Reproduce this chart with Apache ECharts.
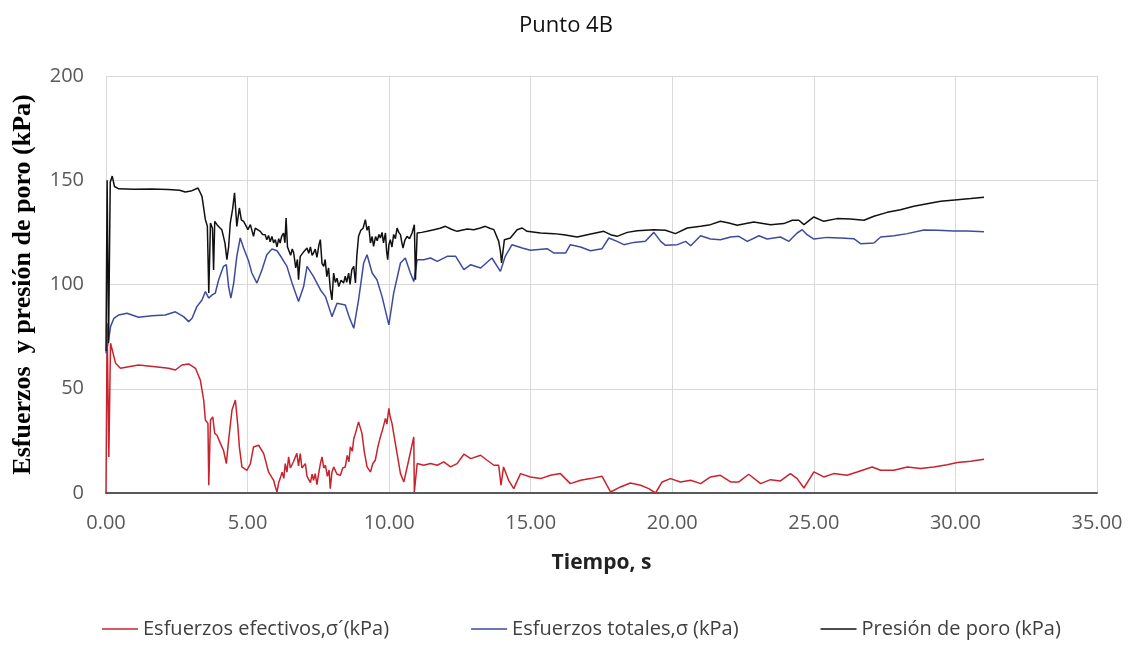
<!DOCTYPE html>
<html>
<head>
<meta charset="utf-8">
<title>Punto 4B</title>
<script src="https://cdn.jsdelivr.net/npm/echarts@6/dist/echarts.min.js"></script>
<style>
  html, body { margin: 0; padding: 0; background: #fff; }
  #chart { width: 1132px; height: 650px; }
</style>
</head>
<body>
<div id="chart"></div>
<script>
// [tiempo (s), valor (kPa)]
const efectivos = [
  [0, 0], [0.04, 81.4], [0.1, 17.3], [0.16, 71.8], [0.22, 71], [0.34, 62.2], [0.51, 59.8], [0.8, 60.6],
  [1.15, 61.4], [1.74, 60.6], [2.21, 59.8], [2.45, 59], [2.68, 61.4], [2.92, 61.9], [3.16, 59.8],
  [3.33, 54.2], [3.45, 44.6], [3.51, 35], [3.6, 33.4], [3.63, 3.7], [3.69, 35], [3.77, 36.5],
  [3.84, 28.6], [3.92, 27.7], [4.04, 23.8], [4.15, 20.5], [4.25, 14.1], [4.33, 25.3], [4.45, 39.8],
  [4.57, 44.6], [4.66, 31.7], [4.71, 22.1], [4.8, 12.5], [4.98, 10.9], [5.1, 14.1], [5.21, 22.1],
  [5.39, 22.9], [5.57, 18.9], [5.74, 10.1], [5.92, 6.1], [5.98, 3], [6.04, 0.5], [6.1, 5], [6.15, 6.9],
  [6.22, 10], [6.28, 7], [6.33, 14.1], [6.39, 10], [6.45, 17.3], [6.51, 12], [6.57, 11.7], [6.62, 15],
  [6.68, 14.1], [6.74, 19], [6.8, 13], [6.86, 18.9], [6.92, 12], [6.98, 11.7], [7.04, 14.1], [7.1, 8],
  [7.16, 7.7], [7.22, 5], [7.28, 9], [7.33, 6.1], [7.39, 9.3], [7.45, 4], [7.51, 9.3], [7.57, 14],
  [7.63, 17.3], [7.69, 12], [7.75, 13.3], [7.82, 8], [7.88, 11], [7.92, 2.1], [7.98, 10], [8.04, 12.5],
  [8.16, 9], [8.28, 8.5], [8.36, 12], [8.45, 12.5], [8.52, 18], [8.58, 15], [8.63, 22.1], [8.7, 20],
  [8.75, 26], [8.81, 28.6], [8.92, 34.1], [9.04, 28.6], [9.12, 20], [9.22, 12.5], [9.34, 10.1],
  [9.42, 14], [9.51, 15.7], [9.6, 22], [9.69, 26.9], [9.78, 31], [9.87, 35.8], [9.92, 33], [9.99, 40.6],
  [10.03, 37], [10.1, 33.4], [10.28, 18.9], [10.4, 9.3], [10.52, 5.3], [10.69, 15.7], [10.87, 26.9],
  [10.89, 0.5], [10.99, 14.1], [11.22, 13.3], [11.46, 14.1], [11.7, 13.3], [11.93, 14.9], [12.17, 12.5],
  [12.4, 14.1], [12.64, 18.6], [12.88, 16.5], [13.23, 18.1], [13.46, 15.7], [13.7, 13.3], [13.87, 13.3],
  [13.95, 3.7], [14.04, 12.5], [14.22, 6.1], [14.4, 2.1], [14.64, 9.3], [14.99, 7.7], [15.35, 6.9],
  [15.7, 8.5], [16.05, 9.3], [16.4, 4.5], [16.76, 6.1], [17.11, 6.9], [17.52, 8], [17.82, 0.5],
  [18.17, 2.9], [18.52, 4.8], [18.88, 3.7], [19.17, 2.1], [19.41, 0], [19.64, 5.3], [19.94, 6.9],
  [20.29, 5.3], [20.65, 6.1], [21.0, 4.5], [21.35, 7.7], [21.7, 8.5], [22.06, 5.3], [22.35, 5.3],
  [22.7, 9], [23.12, 4.5], [23.47, 6.4], [23.82, 5.8], [24.17, 9.3], [24.41, 6.9], [24.65, 2.4],
  [25.0, 10.1], [25.35, 7.7], [25.7, 9.3], [26.17, 8.5], [26.53, 10.1], [27.06, 12.5], [27.36, 10.9],
  [27.83, 10.9], [28.3, 12.5], [28.77, 11.7], [29.24, 12.5], [29.71, 13.6], [30.07, 14.6], [30.54, 15.2],
  [31.01, 16.2]
];

const totales = [
  [0, 67], [0.04, 67], [0.1, 74], [0.16, 79.8], [0.28, 83.8], [0.45, 85.4], [0.74, 86.2], [1.15, 84.3],
  [1.62, 85], [2.09, 85.4], [2.45, 86.9], [2.74, 84.6], [2.92, 82.2], [3.04, 83.8], [3.21, 89.4],
  [3.39, 92.6], [3.51, 96.6], [3.63, 93.5], [3.75, 95], [3.86, 95.9], [3.98, 102.3], [4.15, 108.7],
  [4.25, 109.5], [4.33, 99], [4.41, 93.5], [4.51, 100.7], [4.62, 113.5], [4.74, 122.3], [4.86, 117.5],
  [5.04, 111.1], [5.15, 105.5], [5.33, 100.7], [5.51, 107.1], [5.68, 114.3], [5.86, 117], [6.04, 116.2],
  [6.21, 112.7], [6.39, 108.7], [6.57, 100.7], [6.8, 91.8], [6.98, 99], [7.1, 108.7], [7.16, 109.5],
  [7.33, 103.8], [7.57, 97.5], [7.75, 94.2], [7.98, 84.6], [8.16, 91], [8.45, 90.2], [8.6, 84],
  [8.75, 79], [8.92, 92.6], [9.1, 110.3], [9.22, 114.3], [9.4, 105.5], [9.57, 102.3], [9.75, 94.2],
  [9.99, 80.6], [10.16, 95.9], [10.4, 110.3], [10.57, 112.7], [10.75, 105.5], [10.87, 101.4],
  [10.99, 111.9], [11.22, 111.9], [11.46, 112.7], [11.7, 111.1], [12.05, 113.5], [12.35, 113.5],
  [12.64, 107.1], [12.88, 109.5], [13.23, 107.9], [13.63, 112.7], [13.93, 106.3], [14.1, 113.5],
  [14.34, 119.1], [14.7, 117.5], [14.99, 116.4], [15.58, 117.2], [15.82, 115.1], [16.23, 115.1],
  [16.4, 119.1], [16.76, 118], [17.11, 116.2], [17.52, 117.2], [17.76, 122.3], [18.05, 120.7],
  [18.29, 119.1], [18.64, 120.2], [19.05, 120.7], [19.35, 125], [19.59, 120.7], [19.76, 118.8],
  [20.18, 119.1], [20.47, 120.7], [20.65, 118.6], [21.0, 123.4], [21.35, 121.8], [21.7, 121.5],
  [22.06, 122.8], [22.35, 123.1], [22.65, 120.7], [23.06, 123.4], [23.35, 121.8], [23.82, 122.8],
  [24.12, 120.7], [24.41, 124.7], [24.59, 126.3], [24.76, 123.9], [25.0, 121.8], [25.47, 122.6],
  [25.94, 122.3], [26.41, 122], [26.65, 119.6], [27.12, 119.9], [27.36, 122.8], [27.83, 123.4],
  [28.3, 124.4], [28.89, 126.1], [29.36, 126], [29.95, 125.6], [30.42, 125.6], [31.01, 125.3]
];

const poro = [
  [0, 68], [0.04, 150], [0.09, 72], [0.15, 149], [0.22, 152], [0.3, 147], [0.45, 145.9], [1.0, 145.7],
  [1.6, 145.8], [2.2, 145.6], [2.6, 145.2], [2.8, 144.4], [3.0, 144.8], [3.25, 146.3], [3.39, 142.3],
  [3.51, 131.1], [3.58, 128], [3.63, 95.9], [3.69, 129.5], [3.76, 127], [3.8, 107], [3.84, 130.3],
  [3.92, 128.7], [4.0, 127.5], [4.09, 126.3], [4.2, 120], [4.27, 111.9], [4.33, 118], [4.39, 129.5],
  [4.47, 136], [4.54, 144], [4.62, 127.9], [4.71, 136.7], [4.78, 131], [4.86, 130.3], [4.95, 128],
  [5.01, 126.3], [5.1, 128.7], [5.21, 123.1], [5.27, 127], [5.33, 126.5], [5.45, 125.5], [5.53, 124],
  [5.62, 123.9], [5.68, 121.5], [5.74, 123.5], [5.8, 120.5], [5.86, 123], [5.92, 120], [5.98, 121.5],
  [6.04, 118], [6.1, 122], [6.15, 119.9], [6.2, 123], [6.27, 124.7], [6.32, 120], [6.36, 131.9],
  [6.41, 118], [6.45, 118.3], [6.52, 114], [6.58, 117], [6.63, 115.1], [6.7, 108], [6.76, 112],
  [6.8, 102.3], [6.86, 113.5], [6.92, 113.5], [7.0, 116], [7.1, 117.5], [7.16, 115], [7.22, 118],
  [7.28, 114], [7.33, 115.1], [7.39, 117], [7.45, 113], [7.52, 119], [7.57, 121.5], [7.63, 110],
  [7.69, 108.7], [7.74, 112], [7.8, 103.8], [7.86, 108], [7.92, 98], [7.98, 92.6], [8.04, 105.5],
  [8.1, 101], [8.16, 103], [8.22, 99], [8.3, 102], [8.39, 100.7], [8.45, 104], [8.5, 101], [8.57, 105.5],
  [8.62, 100], [8.68, 107], [8.75, 108.7], [8.81, 100.7], [8.86, 114], [8.92, 123.1], [9.0, 126],
  [9.08, 127], [9.16, 131.1], [9.22, 126], [9.28, 128], [9.34, 119.9], [9.4, 123], [9.45, 118.3],
  [9.52, 123], [9.58, 121], [9.64, 124], [9.69, 122.3], [9.75, 125], [9.8, 120], [9.87, 124.7],
  [9.91, 116], [9.95, 111.9], [9.99, 119], [10.04, 121.5], [10.1, 118], [10.16, 124], [10.22, 122],
  [10.28, 127.1], [10.34, 125], [10.4, 123.9], [10.45, 120], [10.49, 117.5], [10.55, 121], [10.63, 123.1],
  [10.72, 122], [10.81, 124.7], [10.89, 128.7], [10.93, 102.3], [10.99, 124.7], [11.15, 125],
  [11.34, 125.5], [11.58, 126.3], [11.8, 127], [11.99, 127.9], [12.2, 126.5], [12.4, 125.5],
  [12.76, 126.6], [12.99, 126.3], [13.22, 127.1], [13.4, 127.9], [13.55, 127], [13.7, 126.3],
  [13.87, 120.7], [13.93, 116], [13.97, 110.3], [14.07, 121.5], [14.28, 122.3], [14.52, 126.3],
  [14.7, 127.1], [14.87, 125.5], [15.35, 124.7], [15.82, 124.4], [16.17, 123.9], [16.64, 122.8],
  [17.0, 123.9], [17.58, 125.5], [17.82, 123.9], [18.05, 123.1], [18.41, 125], [18.76, 125.8],
  [19.35, 126.3], [19.76, 126], [20.11, 124.4], [20.53, 127.1], [21.0, 127.9], [21.35, 128.7],
  [21.7, 130.3], [22.0, 129.5], [22.29, 128.4], [22.88, 130], [23.47, 128.7], [23.94, 129.2],
  [24.24, 130.8], [24.47, 130.8], [24.65, 128.7], [25.0, 132.4], [25.35, 130.3], [25.82, 131.6],
  [26.29, 131.4], [26.77, 130.8], [27.12, 132.7], [27.59, 134.6], [28.06, 135.9], [28.53, 137.5],
  [29.0, 138.7], [29.48, 139.9], [30.07, 140.7], [30.54, 141.2], [31.01, 141.8]
];

const nombres = [
  "Esfuerzos efectivos,σ´(kPa)",
  "Esfuerzos totales,σ (kPa)",
  "Presión de poro (kPa)",
];
const colores = ["#c8232c", "#3e4a9e", "#111111"];

const chart = echarts.init(document.getElementById("chart"));
const sans = "'Open Sans', 'Noto Sans', sans-serif";

const option = {
  animation: false,
  backgroundColor: "#fff",
  title: {
    text: "Punto 4B",
    left: "center",
    top: 10,
    textStyle: {
      fontFamily: sans,
      fontSize: 22,
      fontWeight: "normal",
      color: "#111",
    },
  },
  legend: {
    data: nombres,
    bottom: 6,
    left: 97,
    icon: "rect",
    itemWidth: 36,
    itemHeight: 1.5,
    itemGap: 82,
    textStyle: {
      fontFamily: sans,
      fontSize: 20,
      color: "#404040",
    },
  },
  grid: {
    left: 106,
    right: 35,
    top: 76,
    bottom: 157,
    outerBoundsMode: "none",
  },
  xAxis: {
    type: "value",
    min: 0,
    max: 35,
    interval: 5,
    name: "Tiempo, s",
    nameLocation: "middle",
    nameGap: 60,
    nameTextStyle: {
      fontFamily: sans,
      fontSize: 21,
      fontWeight: "bold",
      color: "#222",
    },
    axisLine: {
      lineStyle: {
        color: "#595959",
        width: 2,
      },
    },
    axisTick: {
      show: false,
    },
    axisLabel: {
      fontFamily: sans,
      fontSize: 20,
      color: "#595959",
      margin: 20,
      formatter: (v) => v.toFixed(2),
    },
    splitLine: {
      show: true,
      lineStyle: {
        color: "#d9d9d9",
      },
    },
  },
  yAxis: {
    type: "value",
    min: 0,
    max: 200,
    interval: 50,
    name: "Esfuerzos  y presión de poro (kPa)",
    nameLocation: "middle",
    nameGap: 70,
    nameTextStyle: {
      fontFamily: "'Liberation Serif', 'DejaVu Serif', serif",
      fontSize: 26,
      fontWeight: "bold",
      color: "#000",
    },
    axisLine: {
      show: false,
    },
    axisTick: {
      show: false,
    },
    axisLabel: {
      fontFamily: sans,
      fontSize: 20,
      color: "#595959",
      margin: 22,
    },
    splitLine: {
      lineStyle: {
        color: "#d9d9d9",
      },
    },
  },
  series: [efectivos, totales, poro].map((data, i) => ({
    name: nombres[i],
    type: "line",
    symbol: "none",
    color: colores[i],
    lineStyle: {
      color: colores[i],
      width: 1.5,
    },
    data: data,
  })),
};

chart.setOption(option);
</script>
</body>
</html>
